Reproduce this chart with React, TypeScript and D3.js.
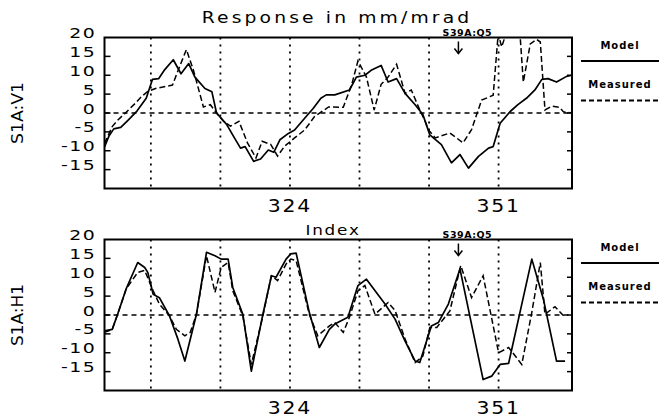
import * as d3 from "d3";

type Pt = [number, number];

const xDomain: [number, number] = [300, 360.5];
const gridIndex = [306, 315, 324, 333, 342, 351];
const xTickLabels = [324, 351];
const yTickLabels = [20, 15, 10, 5, 0, -5, -10, -15];
const yTickMarks = [15, 10, 5, 0, -5, -10, -15];
const markerIndex = 345.8;
const markerName = "S39A:Q5";

// [index, response]
const v1Model: Pt[] = [
  [300, -9], [300.6, -6], [301.2, -4.2], [302.1, -3.8], [303, -2], [304.2, 0.5], [305.4, 3.9],
  [306.2, 8.9], [307, 9.1], [307.8, 11.5], [308.9, 14.1], [309.9, 10.4], [310.9, 13.1], [311.7, 9.5],
  [313, 6.5], [313.9, 5.6], [314.5, 0], [315.8, -3], [316.7, -6.2], [317.6, -9.3], [318.2, -8.9],
  [319.3, -12.8], [320.2, -12.2], [321.2, -9.8], [321.9, -10.4], [322.7, -7.1], [323.8, -5.4],
  [324.6, -4.5], [325.9, -1.4], [327, 1.2], [328, 3.9], [328.7, 4.8], [329.8, 4.8], [331.7, 6.1],
  [332.6, 9.5], [333.7, 10], [334.5, 11.3], [335.8, 12.6], [336.7, 8.2], [337.8, 9.1], [338.9, 5.2],
  [340.2, 2.2], [341.2, -0.4], [342.1, -5.8], [343.6, -8.4], [344.9, -13.2], [346, -11],
  [347.1, -14.6], [348.4, -11.5], [349.7, -9.3], [350.3, -8.9], [351.2, -2.7], [352.5, 0.4],
  [353.5, 2.2], [354.6, 3.9], [355.7, 6.1], [356.6, 8.9], [357.4, 9.1], [358.5, 8.2], [359.8, 9.7],
  [360.5, 10],
];

const v1Measured: Pt[] = [
  [300, -8.1], [301, -3.6], [301.7, -1.9], [302.7, 0], [304, 2.6], [304.8, 4.4], [305.6, 5.7],
  [306.6, 6.5], [308.8, 7.4], [309.7, 12.2], [310.6, 16.8], [311.5, 11.4], [312.8, 1.6], [313.7, 2.2],
  [314.5, 0], [315.4, -2.2], [316.3, -3.5], [317.4, -2.2], [318.5, -7.9], [319.6, -11.9],
  [320.4, -7.5], [321.5, -8.3], [322.4, -11.4], [323.3, -8.8], [324.6, -6.6], [325.9, -4.5],
  [327.2, -0.9], [329, 1.6], [330.9, 1.5], [332, 7.6], [332.8, 13.8], [333.9, 9.5], [334.9, 0.8],
  [335.8, 7.6], [336.7, 9.5], [337.8, 12.9], [338.9, 5.2], [339.7, 6.1], [340.8, 0.8], [341.5, -2.2],
  [341.9, -4.4], [342.8, -6.6], [344.7, -5.3], [346.4, -7.9], [347.5, -4.4], [348.8, 3.4],
  [350.3, 4.7], [350.95, 21], [351.4, 17.5], [351.8, 20], [352.5, 21], [353.8, 20], [354.2, 8.2],
  [355.1, 18.3], [355.9, 19.5], [356.4, 18.8], [357, 0.8], [357.9, 1.8], [358.9, 1.5], [359.4, 0.3],
  [360.5, 0],
];

const h1Model: Pt[] = [
  [300, -4.2], [301, -3.8], [301.7, 0.2], [302.8, 6.9], [304.3, 13.9], [305.2, 12.6], [305.6, 11.3],
  [306.3, 5.5], [307.1, 4.6], [308.4, -0.2], [309.5, -6.4], [310.4, -12.2], [311.9, 0.2],
  [313.2, 16.6], [314.3, 15.7], [315.1, 14.8], [316, 14.8], [316.6, 7.3], [317.9, 0.2], [319, -14.9],
  [320.5, 0.2], [321.6, 10.4], [322.2, 10], [323.5, 14.8], [324.1, 16.2], [324.8, 16.4],
  [326.5, 0.7], [327.8, -8.6], [329.1, -3.8], [329.8, -2.4], [331.5, -0.6], [332.8, 7.8],
  [333.9, 9.5], [336.3, 2.9], [337.6, -1.1], [338.9, -6.9], [340.2, -12.2], [340.8, -12.6],
  [342.3, -2.9], [343.2, -2], [344.5, 2.9], [346, 12.2], [349, -17.1], [350.1, -16.2],
  [351.2, -13.1], [352.3, -12.8], [355.3, 14.8], [356.8, 4.2], [358.5, -12.2], [359.6, -12.2],
];

const h1Measured: Pt[] = [
  [300, -4.6], [301, -3.8], [301.7, 0.2], [302.8, 6.9], [304.3, 11.3], [305.2, 11.8], [306.3, 6.4],
  [307.1, 2.9], [308.4, -0.2], [309.3, -3.8], [310.4, -5.5], [311.1, -4.6], [311.9, 0.2],
  [313.2, 15.7], [314.3, 6], [315.1, 12.6], [316, 13.9], [316.6, 6.4], [317.9, -0.2], [319, -13.1],
  [320.5, -0.2], [321.6, 10.4], [322.4, 9.1], [323.5, 13.5], [324.1, 14.8], [324.8, 14.4],
  [326.5, 0.2], [327.6, -5.5], [329.1, -2.9], [329.8, -2], [330.9, -4.6], [331.7, -0.6],
  [332.8, 6.4], [333.7, 7.8], [335, 0.2], [336.7, 3.3], [337.6, 1.2], [338.9, -6.4], [340.2, -12.6],
  [341.2, -10.9], [342.1, -3.3], [343, -3.3], [344.7, 1.1], [346.1, 13.1], [347.5, 4.6], [349, 10.4],
  [351, -10], [352.3, -8.6], [354, -13.1], [355.3, 0.7], [356.4, 13.9], [357, 0.2], [358.3, 2.2],
  [359.6, -0.6],
];

const FONT = "'DejaVu Sans', sans-serif";
const LEFT = 104.5;
const RIGHT = 572;
const H = 151;

function Panel({ id, top, yLabel, model, measured }: { id: string; top: number; yLabel: string; model: Pt[]; measured: Pt[] }) {
  const x = d3.scaleLinear().domain(xDomain).range([LEFT, RIGHT]);
  const y = d3.scaleLinear().domain([-20, 20]).range([top + H, top]);
  const line = d3.line<Pt>().x((d) => x(d[0])).y((d) => y(d[1]));
  const mx = x(markerIndex);

  return (
    <g>
      <clipPath id={id}>
        <rect x={LEFT} y={top} width={RIGHT - LEFT} height={H} />
      </clipPath>

      {gridIndex.map((g) => (
        <line key={g} x1={x(g)} x2={x(g)} y1={top} y2={top + H} stroke="#000" strokeWidth={1.8} strokeDasharray="2,5" />
      ))}
      <line x1={LEFT} x2={RIGHT} y1={y(0)} y2={y(0)} stroke="#000" strokeWidth={1.6} strokeDasharray="5,4" />

      <g clipPath={`url(#${id})`}>
        <path d={line(model) ?? ""} fill="none" stroke="#000" strokeWidth={1.7} strokeLinejoin="round" />
        <path d={line(measured) ?? ""} fill="none" stroke="#000" strokeWidth={1.5} strokeDasharray="6,3" />
      </g>

      <rect x={LEFT} y={top} width={RIGHT - LEFT} height={H} fill="none" stroke="#000" strokeWidth={2} />
      {yTickMarks.map((t) => (
        <g key={t}>
          <line x1={LEFT} x2={LEFT + 6} y1={y(t)} y2={y(t)} stroke="#000" strokeWidth={1.5} />
          <line x1={RIGHT - 5} x2={RIGHT} y1={y(t)} y2={y(t)} stroke="#000" strokeWidth={1.5} />
        </g>
      ))}

      {yTickLabels.map((t) => (
        <text
          key={t}
          transform={`translate(96,${y(t) + 0.5}) scale(1.35,1)`}
          textAnchor="end"
          fontFamily={FONT}
          fontSize={14}
          letterSpacing={1}
        >
          {t < 0 ? `-${-t}` : t}
        </text>
      ))}
      {xTickLabels.map((t) => (
        <text
          key={t}
          transform={`translate(${x(t)},${top + 174.5}) scale(1.2,1)`}
          textAnchor="middle"
          fontFamily={FONT}
          fontSize={17}
          letterSpacing={1.5}
        >
          {t}
        </text>
      ))}

      <text
        transform={`translate(23,${top + 75.5}) rotate(-90)`}
        textAnchor="middle"
        fontFamily={FONT}
        fontSize={15}
        textLength={62}
        lengthAdjust="spacingAndGlyphs"
      >
        {yLabel}
      </text>

      <text x={mx + 9} y={top - 2} textAnchor="middle" fontFamily={FONT} fontSize={9.5} fontWeight="bold" letterSpacing={0.5}>
        {markerName}
      </text>
      <line x1={mx} x2={mx} y1={top + 4} y2={top + 16} stroke="#000" strokeWidth={1.5} />
      <path d={`M${mx - 4},${top + 11} L${mx},${top + 16} L${mx + 4},${top + 11}`} fill="none" stroke="#000" strokeWidth={1.5} />

      <text x={620} y={top + 11} textAnchor="middle" fontFamily={FONT} fontSize={10} fontWeight="bold" letterSpacing={1}>
        Model
      </text>
      <line x1={581} x2={659} y1={top + 23.5} y2={top + 23.5} stroke="#000" strokeWidth={2} />
      <text x={620} y={top + 50} textAnchor="middle" fontFamily={FONT} fontSize={10} fontWeight="bold" letterSpacing={1}>
        Measured
      </text>
      <line x1={581} x2={659} y1={top + 63} y2={top + 63} stroke="#000" strokeWidth={2} strokeDasharray="5,3" />
    </g>
  );
}

export default function App() {
  return (
    <svg width={659} height={417} style={{ position: "absolute", left: 0, top: 0, background: "#fff" }}>
      <text
        transform="translate(337,23) scale(1.25,1)"
        textAnchor="middle"
        fontFamily={FONT}
        fontSize={15}
        letterSpacing={2.5}
      >
        Response in mm/mrad
      </text>
      <text
        transform="translate(333,235) scale(1.2,1)"
        textAnchor="middle"
        fontFamily={FONT}
        fontSize={14}
        letterSpacing={1.5}
      >
        Index
      </text>
      <Panel id="clip-v1" top={37.5} yLabel="S1A:V1" model={v1Model} measured={v1Measured} />
      <Panel id="clip-h1" top={239.5} yLabel="S1A:H1" model={h1Model} measured={h1Measured} />
    </svg>
  );
}
